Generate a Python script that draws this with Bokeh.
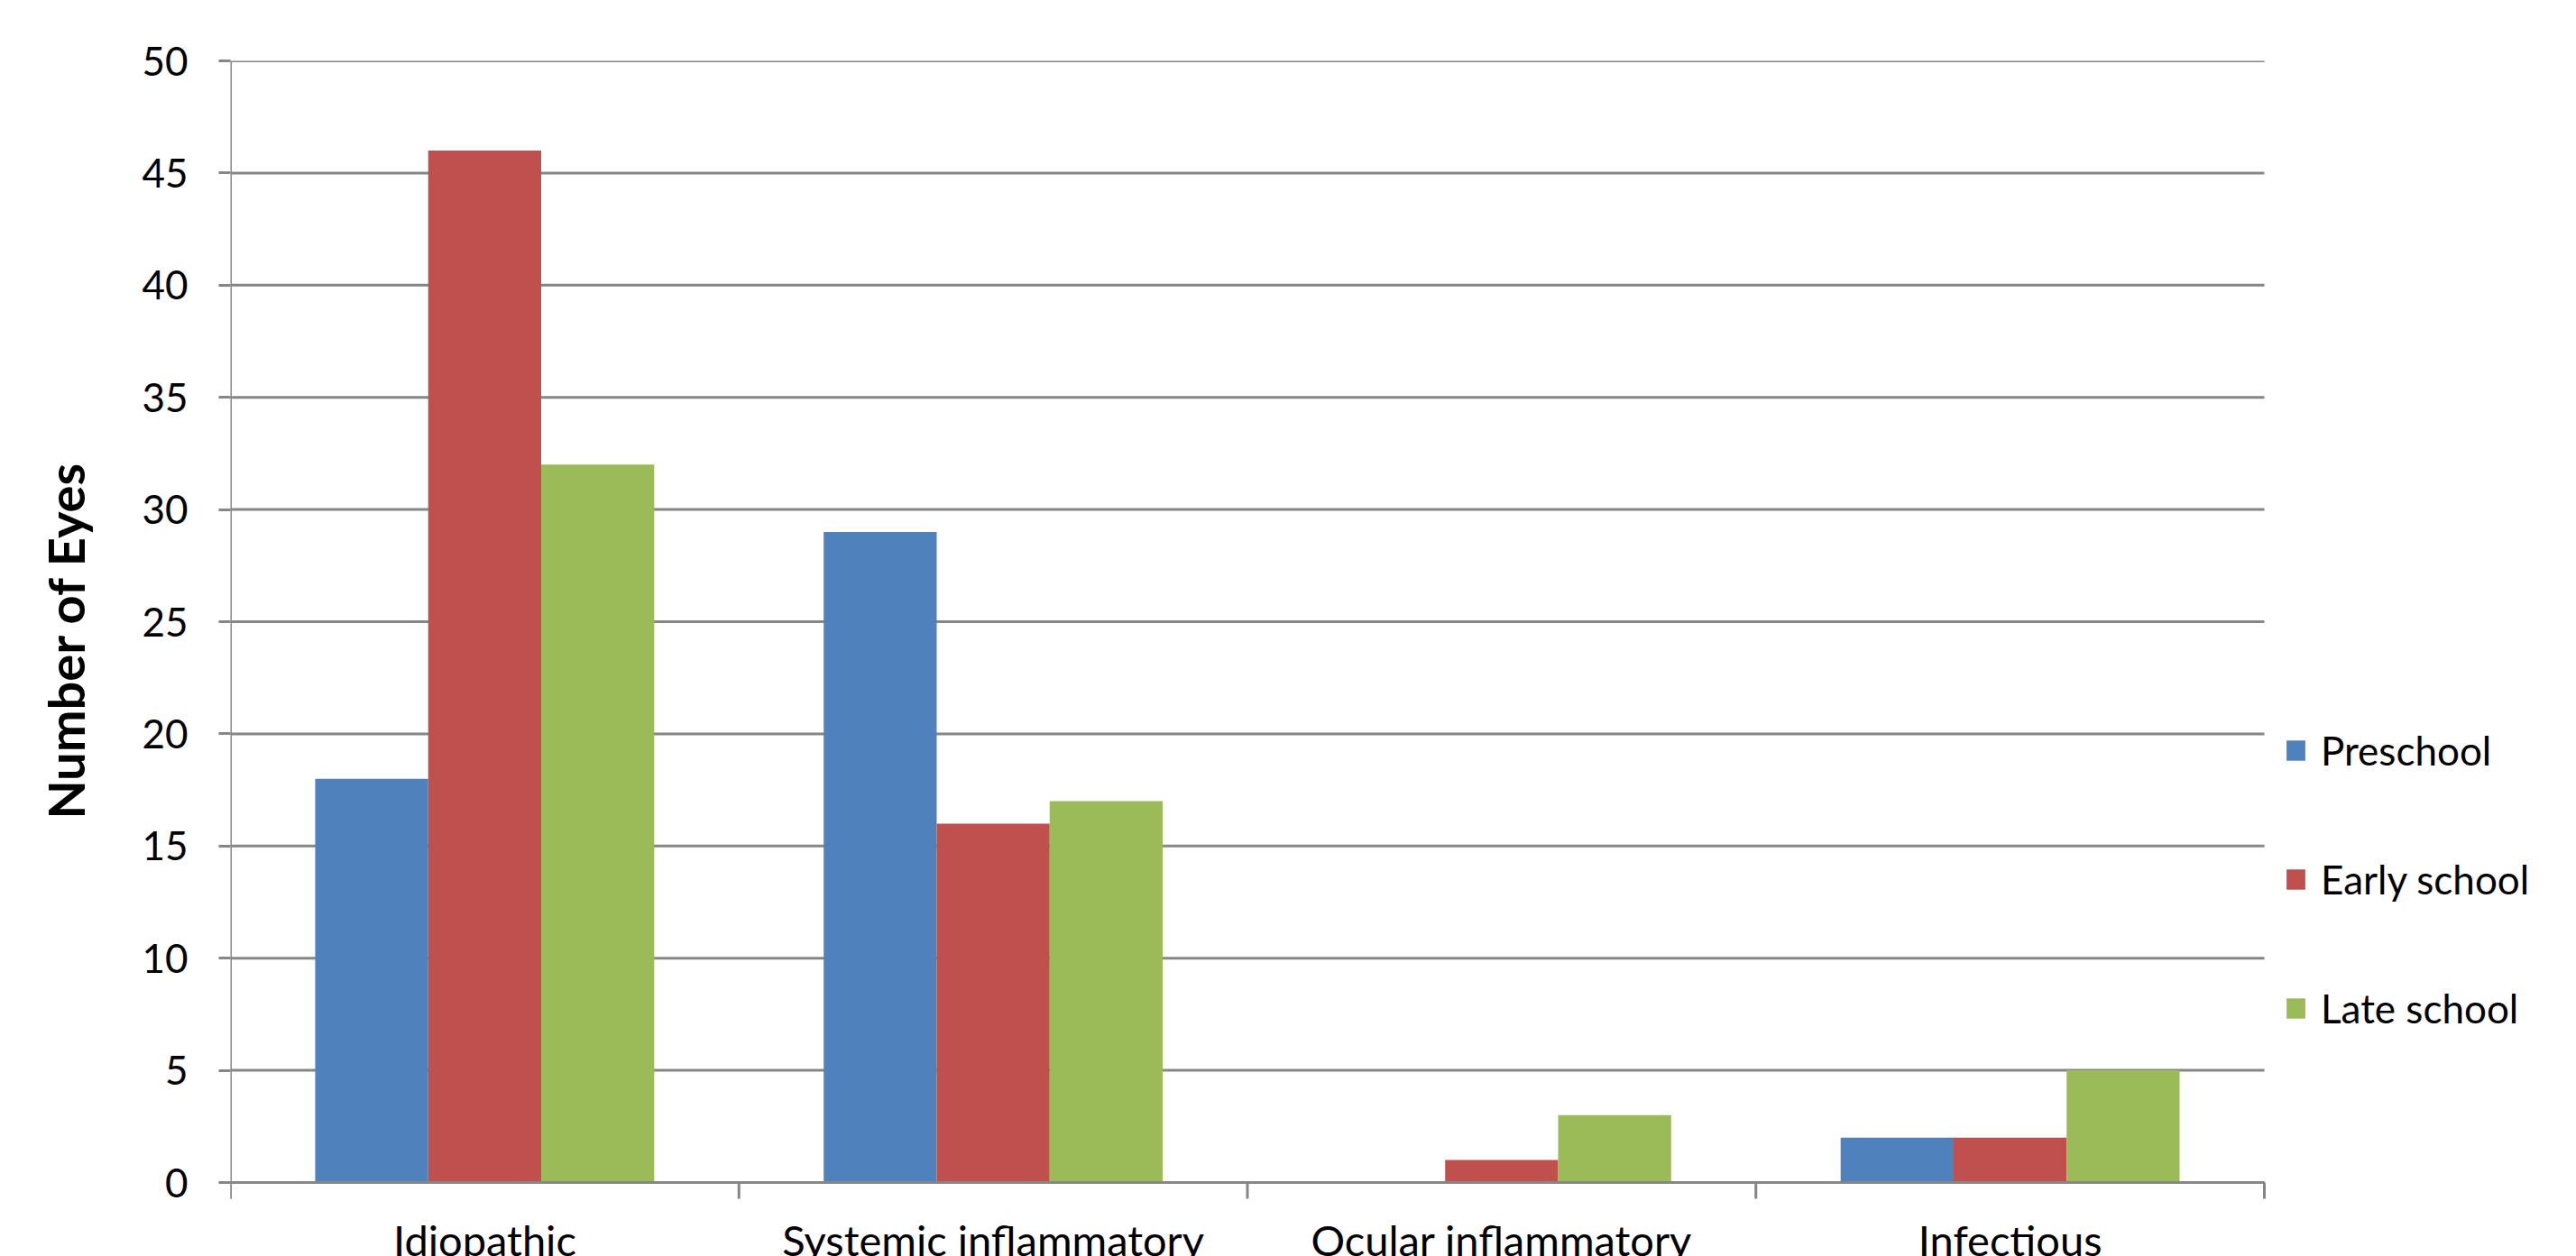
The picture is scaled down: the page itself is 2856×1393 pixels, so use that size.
from bokeh.plotting import figure
from bokeh.models import Range1d, FixedTicker, Legend, LegendItem, ColumnDataSource
from bokeh.embed import file_html
from bokeh.resources import INLINE
from bokeh.core.properties import value

# Uveitis cause by age group
categories = ["Idiopathic", "Systemic inflammatory", "Ocular inflammatory", "Infectious"]
series = ["Preschool", "Early school", "Late school"]
preschool = [18, 29, 0, 2]
early_school = [46, 16, 1, 2]
late_school = [32, 17, 3, 5]
y_ticks = [0, 5, 10, 15, 20, 25, 30, 35, 40, 45, 50]
y_title = "Number of Eyes"

colors = ["#4F81BD", "#C0504D", "#9BBB59"]
FONT = "Lato"
GRID = "#868686"

# page geometry (pixels): the drawing area runs to the right and bottom edges so
# the legend and the category names can sit outside the gridded region
W, H = 2856, 1393
LEFT, TOP = 255, 67          # y axis position, top of the value scale
RIGHT, ZERO = 2510, 1311     # right end of the gridlines, baseline of the bars
TICK_PX = 18                 # length of the category tick marks
LABEL_PX = 35                # gap between baseline and category names

y_max = y_ticks[-1]
unit_y = y_max / (ZERO - TOP)            # value units per pixel
unit_x = len(categories) / (RIGHT - LEFT)
y_start = -(H - ZERO) * unit_y
x_end = (W - LEFT) * unit_x

p = figure(width=W, height=H, output_backend="svg", toolbar_location=None,
           x_range=Range1d(0, x_end), y_range=Range1d(y_start, y_max),
           x_axis_location=None,
           min_border_left=LEFT, min_border_right=0, min_border_top=TOP,
           min_border_bottom=0)
p.outline_line_color = None
p.background_fill_color = "white"
p.border_fill_color = "white"
p.xgrid.visible = False
p.ygrid.visible = False

n_cat = len(categories)

# horizontal gridlines across the category span
p.segment(x0=[0] * len(y_ticks), x1=[n_cat] * len(y_ticks), y0=y_ticks, y1=y_ticks,
          line_color=GRID, line_width=3)

# clustered bars: three bars per category, gap of 1.5 bar widths between groups
n = len(series)
bar_w = 1.0 / (n + 1.5)
renderers = []
for j, vals in enumerate([preschool, early_school, late_school]):
    xs = [i + 0.5 + (j - (n - 1) / 2) * bar_w for i in range(n_cat)]
    src = ColumnDataSource(dict(x=xs, top=vals, cat=categories))
    r = p.vbar(x="x", top="top", bottom=0, width=bar_w, source=src,
               fill_color=colors[j], line_color=None)
    renderers.append(r)

# category axis: baseline, boundary ticks and the vertical value-axis line
bounds = list(range(n_cat + 1))
tick_len = TICK_PX * unit_y
p.segment(x0=[0], x1=[n_cat], y0=[0], y1=[0], line_color=GRID, line_width=3)
p.segment(x0=bounds, x1=bounds, y0=[0] * len(bounds), y1=[-tick_len] * len(bounds),
          line_color=GRID, line_width=3)
p.segment(x0=[0], x1=[0], y0=[-tick_len], y1=[y_max], line_color=GRID, line_width=3)

centres = [i + 0.5 for i in range(n_cat)]
p.text(x=centres, y=[-LABEL_PX * unit_y] * n_cat, text=categories,
       text_align="center", text_baseline="top", text_font=value(FONT),
       text_font_size="47px", text_color="black")

# value axis
p.yaxis.ticker = FixedTicker(ticks=y_ticks)
p.yaxis.axis_line_color = None
p.yaxis.major_tick_line_color = GRID
p.yaxis.major_tick_line_width = 3
p.yaxis.major_tick_out = 13
p.yaxis.major_tick_in = 0
p.yaxis.minor_tick_line_color = None
p.yaxis.major_label_text_font = FONT
p.yaxis.major_label_text_font_size = "44px"
p.yaxis.major_label_text_color = "black"
p.yaxis.major_label_standoff = 34
# leading no-break spaces lift the title a little above the panel centre
p.yaxis.axis_label = "\u00a0" * 3 + y_title
p.yaxis.axis_label_text_font = FONT
p.yaxis.axis_label_text_font_size = "56px"
p.yaxis.axis_label_text_font_style = "bold"
p.yaxis.axis_label_text_color = "black"
p.yaxis.axis_label_standoff = 48

legend = Legend(items=[LegendItem(label=s, renderers=[r]) for s, r in zip(series, renderers)],
                location=(2532 - LEFT, H - 1146), orientation="vertical",
                glyph_width=26, glyph_height=28, label_standoff=15, spacing=87,
                label_height=56, padding=0, margin=0, border_line_color=None,
                background_fill_alpha=0, label_text_font=FONT,
                label_text_font_size="44px", label_text_color="black")
p.add_layout(legend)

open("out.html", "w").write(file_html(p, INLINE))
